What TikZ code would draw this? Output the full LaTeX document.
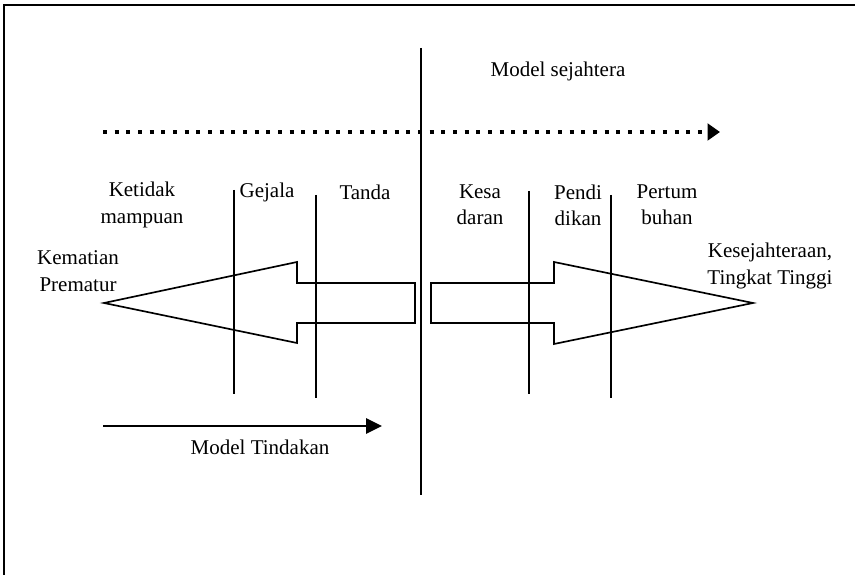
\documentclass[tikz,border=0pt]{standalone}
\usepackage{fontspec}
\setmainfont{Liberation Serif}
\usetikzlibrary{arrows.meta}
\usetikzlibrary{positioning}

\begin{document}
\begin{tikzpicture}[x=0.6pt,y=-0.6pt,thick]
\tikzstyle{lbl}=[align=center,inner sep=0pt,font=\fontsize{12.6}{15.8}\selectfont]
\tikzstyle{bar}=[line width=0.9pt]
\tikzstyle{fat}=[line width=1pt,line join=miter]
\useasboundingbox (0,0) rectangle (855,575);
% frame (only top and left edges show)
\draw[line width=1.2pt] (4,575) -- (4,5) -- (855,5);
% the two big arrows
\draw[fat] (415,283) -- (297,283) -- (297,262) -- (104,303) -- (297,343) -- (297,323) -- (415,323) -- cycle;
\draw[fat] (431,283) -- (554,283) -- (554,262) -- (753,303) -- (554,344) -- (554,323) -- (431,323) -- cycle;
% dividers
\coordinate (midT) at (421,48);   \coordinate (midB) at (421,495);
\coordinate (gejT) at (234,190);  \coordinate (gejB) at (234,394);
\coordinate (tanT) at (316,195);  \coordinate (tanB) at (316,398);
\coordinate (kesT) at (529,191);  \coordinate (kesB) at (529,394);
\coordinate (penT) at (611,195);  \coordinate (penB) at (611,398);
\draw[line width=1.1pt] (midT) -- (midB);
\draw[bar] (gejT) -- (gejB);
\draw[bar] (tanT) -- (tanB);
\draw[bar] (kesT) -- (kesB);
\draw[bar] (penT) -- (penB);
% labels
\node[lbl] (sejah)  at (558,71)  {Model sejahtera};
\node[lbl] (ketid)  at (142,205) {Ketidak\\mampuan};
\node[lbl] (gejala) at (267,192) {Gejala};
\node[lbl] (tanda)  at (365,192) {Tanda};
\node[lbl] (kesa)   at (480,205) {Kesa\\daran};
\node[lbl] (pendi)  at (578,205) {Pendi\\dikan};
\node[lbl] (pertum) at (667,205) {Pertum\\buhan};
\node[lbl] (mati)   at (78,271)  {Kematian\\Prematur};
\node[lbl] (tinggi) at (770,266) {Kesejahteraan,\\Tingkat Tinggi};
\node[lbl] (tindak) at (260,447) {Model Tindakan};
% arrows
\coordinate (dotS) at (103,132); \coordinate (dotE) at (720,132);
\coordinate (actS) at (103,426); \coordinate (actE) at (382,426);
\draw[line width=2.4pt,dash pattern=on 2.4pt off 4.6pt,-{Triangle[length=7.5pt,width=10pt]}] (dotS) -- (dotE);
\draw[line width=1.3pt,-{Triangle[length=9.5pt,width=9pt]}] (actS) -- (actE);
\end{tikzpicture}
\end{document}
